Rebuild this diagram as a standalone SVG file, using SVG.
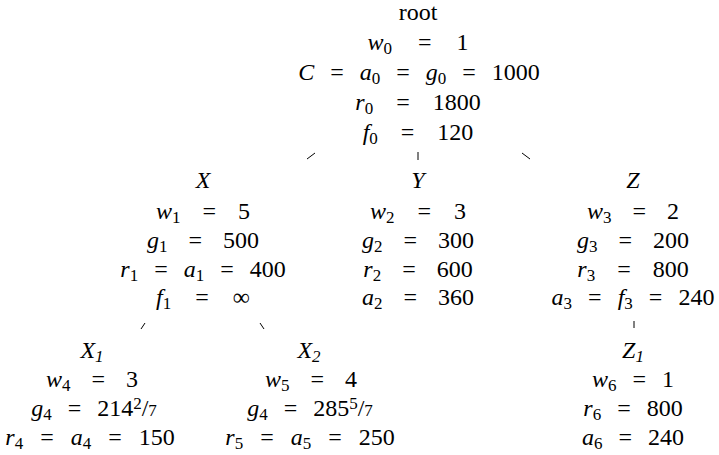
<svg xmlns="http://www.w3.org/2000/svg" width="719" height="455" viewBox="0 0 719 455">
<style>
.t{font-family:"Liberation Serif","Times New Roman",serif;font-size:24px;fill:#000;text-anchor:middle}
.i{font-style:italic}
.s{font-size:17px}
.e{stroke:#000;stroke-width:1;fill:none}
</style>
<rect width="719" height="455" fill="#fff"/>
<g id="connectors">
<line class="e" x1="307" y1="159" x2="315" y2="153"/>
<line class="e" x1="418" y1="152" x2="418" y2="160"/>
<line class="e" x1="522" y1="153" x2="530" y2="159"/>
<line class="e" x1="141" y1="329" x2="145" y2="323"/>
<line class="e" x1="260" y1="323" x2="264" y2="329"/>
<line class="e" x1="634" y1="321" x2="634" y2="328"/>
</g>
<g id="root">
<text class="t" x="418" y="20">root</text>
<text class="t" x="418" y="50"><tspan class="i">w</tspan><tspan class="s" dy="4">0</tspan><tspan dx="26" dy="-4">=</tspan><tspan dx="25">1</tspan></text>
<text class="t" x="419" y="80"><tspan class="i">C</tspan><tspan dx="16">=</tspan><tspan class="i" dx="16">a</tspan><tspan class="s" dy="4">0</tspan><tspan dx="16" dy="-4">=</tspan><tspan class="i" dx="16">g</tspan><tspan class="s" dy="4">0</tspan><tspan dx="16" dy="-4">=</tspan><tspan dx="16">1000</tspan></text>
<text class="t" x="418" y="110"><tspan class="i">r</tspan><tspan class="s" dy="4">0</tspan><tspan dx="23" dy="-4">=</tspan><tspan dx="23">1800</tspan></text>
<text class="t" x="418" y="140"><tspan class="i">f</tspan><tspan class="s" dy="4">0</tspan><tspan dx="23" dy="-4">=</tspan><tspan dx="23">120</tspan></text>
</g>
<g id="X">
<text class="t i" x="203" y="188">X</text>
<text class="t" x="203" y="219"><tspan class="i">w</tspan><tspan class="s" dy="4">1</tspan><tspan dx="22" dy="-4">=</tspan><tspan dx="22">5</tspan></text>
<text class="t" x="203" y="248"><tspan class="i">g</tspan><tspan class="s" dy="4">1</tspan><tspan dx="21" dy="-4">=</tspan><tspan dx="21">500</tspan></text>
<text class="t" x="203" y="277"><tspan class="i">r</tspan><tspan class="s" dy="4">1</tspan><tspan dx="16" dy="-4">=</tspan><tspan class="i" dx="16">a</tspan><tspan class="s" dy="4">1</tspan><tspan dx="16" dy="-4">=</tspan><tspan dx="16">400</tspan></text>
<text class="t" x="203" y="305"><tspan class="i">f</tspan><tspan class="s" dy="4">1</tspan><tspan dx="24" dy="-4">=</tspan><tspan dx="24">∞</tspan></text>
</g>
<g id="Y">
<text class="t i" x="418" y="188">Y</text>
<text class="t" x="418" y="219"><tspan class="i">w</tspan><tspan class="s" dy="4">2</tspan><tspan dx="23" dy="-4">=</tspan><tspan dx="23">3</tspan></text>
<text class="t" x="418" y="248"><tspan class="i">g</tspan><tspan class="s" dy="4">2</tspan><tspan dx="21" dy="-4">=</tspan><tspan dx="21">300</tspan></text>
<text class="t" x="418" y="277"><tspan class="i">r</tspan><tspan class="s" dy="4">2</tspan><tspan dx="21" dy="-4">=</tspan><tspan dx="21">600</tspan></text>
<text class="t" x="418" y="305"><tspan class="i">a</tspan><tspan class="s" dy="4">2</tspan><tspan dx="21" dy="-4">=</tspan><tspan dx="21">360</tspan></text>
</g>
<g id="Z">
<text class="t i" x="633" y="188">Z</text>
<text class="t" x="633" y="219"><tspan class="i">w</tspan><tspan class="s" dy="4">3</tspan><tspan dx="21" dy="-4">=</tspan><tspan dx="21">2</tspan></text>
<text class="t" x="633" y="248"><tspan class="i">g</tspan><tspan class="s" dy="4">3</tspan><tspan dx="21" dy="-4">=</tspan><tspan dx="21">200</tspan></text>
<text class="t" x="633" y="277"><tspan class="i">r</tspan><tspan class="s" dy="4">3</tspan><tspan dx="22" dy="-4">=</tspan><tspan dx="22">800</tspan></text>
<text class="t" x="633" y="305"><tspan class="i">a</tspan><tspan class="s" dy="4">3</tspan><tspan dx="16" dy="-4">=</tspan><tspan class="i" dx="16">f</tspan><tspan class="s" dy="4">3</tspan><tspan dx="16" dy="-4">=</tspan><tspan dx="16">240</tspan></text>
</g>
<g id="X1">
<text class="t" x="92" y="358"><tspan class="i">X</tspan><tspan class="s i" dy="4">1</tspan></text>
<text class="t" x="92" y="387"><tspan class="i">w</tspan><tspan class="s" dy="4">4</tspan><tspan dx="21" dy="-4">=</tspan><tspan dx="21">3</tspan></text>
<text class="t" x="94" y="416"><tspan class="i">g</tspan><tspan class="s" dy="4">4</tspan><tspan dx="16" dy="-4">=</tspan><tspan dx="16">214</tspan><tspan class="s" dy="-7">2</tspan><tspan dy="7">/</tspan><tspan class="s">7</tspan></text>
<text class="t" x="90" y="445"><tspan class="i">r</tspan><tspan class="s" dy="4">4</tspan><tspan dx="17" dy="-4">=</tspan><tspan class="i" dx="17">a</tspan><tspan class="s" dy="4">4</tspan><tspan dx="17" dy="-4">=</tspan><tspan dx="17">150</tspan></text>
</g>
<g id="X2">
<text class="t" x="309" y="358"><tspan class="i">X</tspan><tspan class="s i" dy="4">2</tspan></text>
<text class="t" x="311" y="387"><tspan class="i">w</tspan><tspan class="s" dy="4">5</tspan><tspan dx="21" dy="-4">=</tspan><tspan dx="21">4</tspan></text>
<text class="t" x="310" y="416"><tspan class="i">g</tspan><tspan class="s" dy="4">4</tspan><tspan dx="16" dy="-4">=</tspan><tspan dx="16">285</tspan><tspan class="s" dy="-7">5</tspan><tspan dy="7">/</tspan><tspan class="s">7</tspan></text>
<text class="t" x="310" y="445"><tspan class="i">r</tspan><tspan class="s" dy="4">5</tspan><tspan dx="17" dy="-4">=</tspan><tspan class="i" dx="17">a</tspan><tspan class="s" dy="4">5</tspan><tspan dx="17" dy="-4">=</tspan><tspan dx="17">250</tspan></text>
</g>
<g id="Z1">
<text class="t" x="633" y="358"><tspan class="i">Z</tspan><tspan class="s i" dy="4">1</tspan></text>
<text class="t" x="633" y="387"><tspan class="i">w</tspan><tspan class="s" dy="4">6</tspan><tspan dx="16" dy="-4">=</tspan><tspan dx="16">1</tspan></text>
<text class="t" x="633" y="416"><tspan class="i">r</tspan><tspan class="s" dy="4">6</tspan><tspan dx="16" dy="-4">=</tspan><tspan dx="16">800</tspan></text>
<text class="t" x="633" y="445"><tspan class="i">a</tspan><tspan class="s" dy="4">6</tspan><tspan dx="16" dy="-4">=</tspan><tspan dx="16">240</tspan></text>
</g>
</svg>
